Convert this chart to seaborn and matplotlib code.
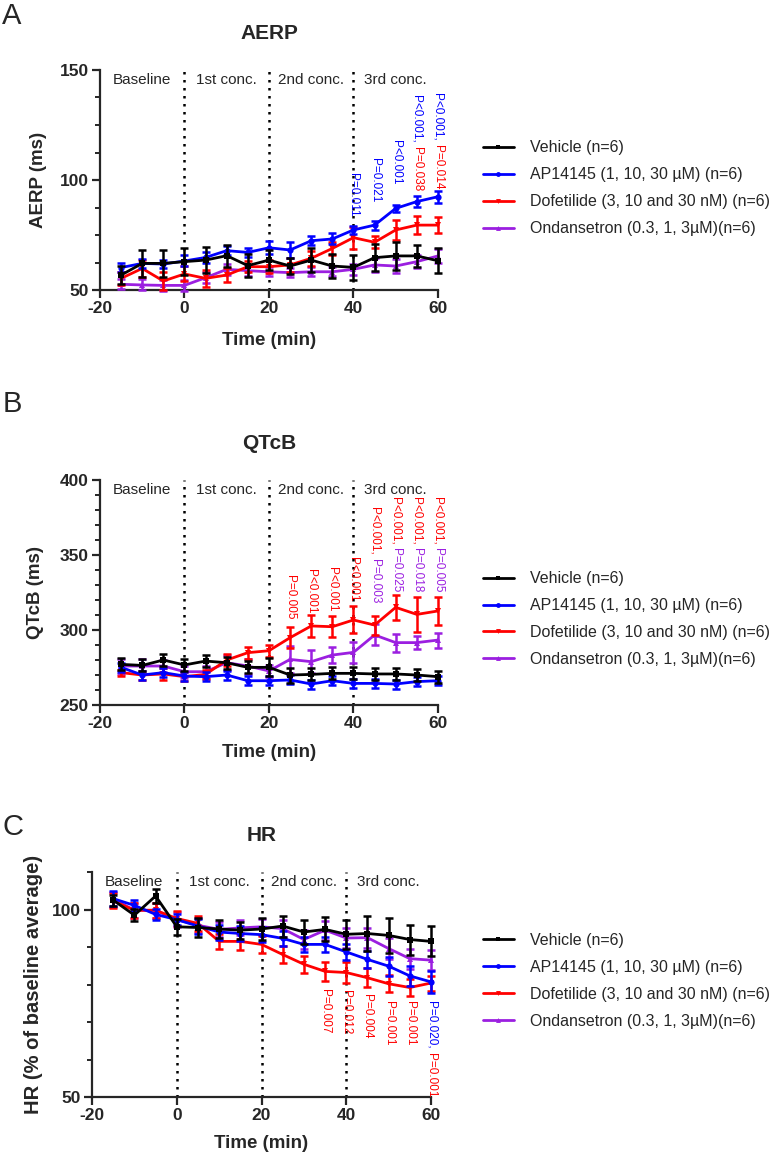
import matplotlib
matplotlib.use("Agg")
import matplotlib.pyplot as plt
from matplotlib.lines import Line2D
import pandas as pd
import seaborn as sns

# Data (mean and SEM)

times = [-15, -10, -5, 0, 5, 10, 15, 20, 25, 30, 35, 40, 45, 50, 55, 60]

groups = ["Vehicle (n=6)", "AP14145 (1, 10, 30 µM) (n=6)",
          "Dofetilide (3, 10 and 30 nM) (n=6)", "Ondansetron (0.3, 1, 3µM)(n=6)"]

aerp_vehicle = [56.8, 62.1, 62.1, 62.9, 63.6, 65.6, 61.1, 63.6, 60.9, 63.6, 60.9, 60.3, 64.7, 65.5, 65.5, 63.3]
aerp_vehicle_sem = [4, 6, 6, 6, 6, 5, 5.3, 4.5, 3.8, 5.3, 5.3, 5.7, 6, 6.2, 5, 5.7]
aerp_ap = [60.2, 62.1, 61.8, 63.2, 64.8, 67.9, 67.1, 69.2, 68.2, 72.4, 73.2, 77.3, 79.5, 87.1, 90.2, 92.4]
aerp_ap_sem = [2, 2, 2, 2.5, 2.5, 2, 2, 3, 3.5, 2, 2.5, 2, 2, 1.5, 2.5, 2.8]
aerp_dof = [55.3, 59.8, 54.1, 57.3, 55.3, 56.8, 60.6, 60.6, 61.4, 64.4, 68.9, 73.8, 71.7, 77.3, 79.5, 79.5]
aerp_dof_sem = [3, 3.8, 4, 3.4, 4, 3, 2.6, 3, 3, 3.5, 3, 5, 2.7, 4.5, 4, 3.6]
aerp_ond = [52.6, 52.3, 52.1, 52.1, 55.6, 59.4, 58.8, 58.3, 57.9, 58.3, 58.3, 59.4, 61.4, 60.9, 62.9, 65.5]
aerp_ond_sem = [2.3, 2.5, 2.5, 2.5, 2.5, 2.5, 2.5, 2, 2, 2, 2, 2.5, 3, 3, 3, 3]

qtc_vehicle = [277.1, 276.4, 280, 276.7, 279.3, 278.2, 275.1, 275.1, 270, 270.4, 271.1, 271.1, 270.7, 270.7, 270, 268.9]
qtc_vehicle_sem = [4, 4, 4, 4, 4, 4, 4, 6, 5, 4, 4, 4, 4, 4, 4, 4]
qtc_ap = [275.1, 270, 271.6, 269.3, 268.9, 270, 266.2, 266.2, 266.7, 264, 266.2, 264.4, 264.4, 264, 265.6, 266.2]
qtc_ap_sem = [3, 3, 3, 3, 3, 3, 3, 3, 3, 3, 3, 3, 3, 3, 3, 3]
qtc_dof = [271.6, 270, 270.7, 268.9, 270.4, 280, 284.9, 286.2, 294.9, 302.7, 302.2, 306.7, 303.3, 315.1, 310.4, 312.7]
qtc_dof_sem = [2, 3, 4, 3, 3, 4, 4, 4, 7, 7.4, 7, 9, 6.3, 8.3, 11.8, 9.2]
qtc_ond = [276, 276, 276, 272.2, 272.2, 278.2, 276, 272.7, 280.4, 278.9, 283.3, 285.1, 296.7, 291.6, 291.6, 293.3]
qtc_ond_sem = [5, 5, 4, 4, 4, 5, 5, 4, 9, 7.5, 5.5, 7, 7, 6, 4.5, 5]

hr_vehicle = [102.5, 98.5, 103.6, 95.4, 95.2, 94.8, 94.5, 94.8, 95.6, 94.0, 94.7, 93.4, 93.6, 93.1, 92.0, 91.5]
hr_vehicle_sem = [1.5, 1.6, 1.8, 2.2, 2.5, 2.5, 2.3, 3, 2.8, 3.3, 3.2, 3.9, 4.7, 4.6, 4, 4]
hr_ap = [102.9, 101.1, 98.7, 97.3, 95.6, 94.0, 93.6, 93.3, 92.3, 90.7, 90.7, 88.7, 86.7, 84.9, 82.3, 80.7]
hr_ap_sem = [2, 1.5, 1.5, 1.5, 2, 2, 2, 2, 2, 2, 2, 2.2, 2.3, 2.5, 2.7, 2.9]
hr_dof = [102.3, 99.8, 99.8, 97.6, 96.3, 91.5, 91.5, 90.7, 88.0, 85.4, 83.5, 83.2, 81.8, 80.2, 79.2, 80.4]
hr_dof_sem = [2, 2, 2, 2, 2, 2, 2.3, 2.2, 2.2, 2.3, 2.5, 2.7, 2.5, 2.3, 2.2, 2]
hr_ond = [102.8, 99.8, 99.8, 97.3, 95.8, 94.7, 95.1, 95.4, 94.9, 92.0, 94.5, 92.4, 92.5, 89.6, 86.9, 86.5]
hr_ond_sem = [2, 2, 2, 2, 2, 2, 2, 2.2, 2.2, 2.5, 2.5, 2.7, 2.7, 2.7, 2.7, 2.7]

phases = ["Baseline", "1st conc.", "2nd conc.", "3rd conc."]

# p-value labels: time, label parts (text, group index)
aerp_p = [(40, [("P=0.011", 1)]), (45, [("P=0.021", 1)]), (50, [("P<0.001", 1)]),
          (55, [("P<0.001,", 1), ("P=0.038", 2)]), (60, [("P<0.001,", 1), ("P=0.014", 2)])]
qtc_p = [(25, [("P=0.005", 2)]), (30, [("P<0.001", 2)]), (35, [("P<0.001", 2)]), (40, [("P<0.001", 2)]),
         (45, [("P<0.001,", 2), ("P=0.003", 3)]), (50, [("P<0.001,", 2), ("P=0.025", 3)]),
         (55, [("P<0.001,", 2), ("P=0.018", 3)]), (60, [("P<0.001,", 2), ("P=0.005", 3)])]
hr_p = [(35, [("P=0.007", 2)]), (40, [("P=0.012", 2)]), (45, [("P=0.004", 2)]),
        (50, [("P=0.001", 2)]), (55, [("P=0.001", 2)]), (60, [("P=0.020,", 1), ("P=0.001", 2)])]

colors = ["black", "#0000FF", "#FF0000", "#9B1FE0"]
markers = ["s", "o", "v", "^"]

# Style

sns.set_style("ticks")
plt.rcParams["font.family"] = ["Liberation Sans", "DejaVu Sans"]
plt.rcParams["axes.linewidth"] = 1.6
plt.rcParams["axes.unicode_minus"] = False

fig = plt.figure(figsize=(7.72, 11.55), dpi=100)


def draw_panel(rect, title, ylabel, ylim, yticks, minor_step, means, sems, pvals, ptops,
               ylab_x, ylab_size, xlab_y):
    ax = fig.add_axes(rect)
    rows = []
    for g, vals in zip(groups, means):
        for t, v in zip(times, vals):
            rows.append({"time": t, "value": v, "group": g})
    df = pd.DataFrame(rows)
    order = [3, 2, 1, 0]
    for i in order:
        sub = df[df["group"] == groups[i]]
        sns.lineplot(data=sub, x="time", y="value", color=colors[i], marker=markers[i],
                     markersize=4.5, markeredgewidth=0, linewidth=2, ax=ax, legend=False,
                     clip_on=False, zorder=3)
        ax.errorbar(times, means[i], yerr=sems[i], fmt="none", ecolor=colors[i],
                    elinewidth=1.8, capsize=3, capthick=1.8, clip_on=False, zorder=3)

    for x in [0, 20, 40]:
        ax.axvline(x, color="black", linestyle=(0, (1, 2.2)), linewidth=1.8, zorder=1)
    for x, lab in zip([-10, 10, 30, 50], phases):
        ax.text(x, ylim[1] - (ylim[1] - ylim[0]) * 0.015, lab, ha="center", va="top", fontsize=11)

    for (t, parts), ytop in zip(pvals, ptops):
        prev = ax.text(t, ytop, parts[0][0], rotation=270, ha="center", va="top",
                       color=colors[parts[0][1]], fontsize=8.5, clip_on=False)
        for txt, gi in parts[1:]:
            prev = ax.annotate(txt, xy=(0.5, 0), xycoords=prev, xytext=(0, -3),
                               textcoords="offset points", rotation=270, ha="center", va="top",
                               color=colors[gi], fontsize=8.5)

    ax.set_xlim(-20, 60)
    ax.set_ylim(*ylim)
    ax.set_xticks([-20, 0, 20, 40, 60])
    ax.set_yticks(yticks)
    ax.set_yticks([ylim[0] + k * minor_step for k in range(int(round((ylim[1] - ylim[0]) / minor_step)) + 1)], minor=True)
    ax.tick_params(axis="both", which="major", length=6, width=1.6, labelsize=12.5, pad=2)
    ax.tick_params(axis="y", which="minor", length=3.5, width=1.4)
    for lab in ax.get_xticklabels() + ax.get_yticklabels():
        lab.set_fontweight("bold")
    sns.despine(ax=ax)
    ax.set_title(title, fontsize=15, fontweight="bold", pad=22)
    ax.set_xlabel("Time (min)", fontsize=13.5, fontweight="bold")
    ax.xaxis.set_label_coords(0.5, xlab_y)
    ax.set_ylabel(ylabel, fontsize=ylab_size, fontweight="bold")
    ax.yaxis.set_label_coords(ylab_x, 0.5)
    return ax


def add_legend(y_center):
    handles = [Line2D([], [], color=colors[i], marker=markers[i], markersize=3.5,
                      markeredgewidth=0, linewidth=2) for i in range(4)]
    fig.legend(handles, groups, loc="center left", bbox_to_anchor=(0.625, y_center),
               frameon=False, fontsize=11.5, handlelength=2.0, handletextpad=1.0,
               labelspacing=0.75, borderpad=0, borderaxespad=0)


draw_panel([0.1295, 0.7489, 0.4378, 0.1905], "AERP", "AERP (ms)", (50, 150), [50, 100, 150], 12.5,
           [aerp_vehicle, aerp_ap, aerp_dof, aerp_ond],
           [aerp_vehicle_sem, aerp_ap_sem, aerp_dof_sem, aerp_ond_sem],
           aerp_p, [103, 110, 118, 138.6, 139.7], -0.157, 13.5, -0.19)
add_legend(0.837)

draw_panel([0.1295, 0.3896, 0.4378, 0.1948], "QTcB", "QTcB (ms)", (250, 400), [250, 300, 350, 400], 10,
           [qtc_vehicle, qtc_ap, qtc_dof, qtc_ond],
           [qtc_vehicle_sem, qtc_ap_sem, qtc_dof_sem, qtc_ond_sem],
           qtc_p, [337, 341, 342, 349, 382, 389, 389, 389], -0.166, 13.5, -0.175)
add_legend(0.464)

draw_panel([0.1192, 0.0502, 0.4391, 0.1948], "HR", "HR (% of baseline average)", (50, 110), [50, 100], 10,
           [hr_vehicle, hr_ap, hr_dof, hr_ond],
           [hr_vehicle_sem, hr_ap_sem, hr_dof_sem, hr_ond_sem],
           hr_p, [78.9, 78.6, 77.4, 75.6, 75.6, 75.6], -0.145, 14.5, -0.17)
add_legend(0.1506)

for letter, y in zip(["A", "B", "C"], [0.998, 0.662, 0.296]):
    fig.text(0.003, y, letter, fontsize=21, va="top", ha="left")

fig.savefig("out.png", dpi=100)
